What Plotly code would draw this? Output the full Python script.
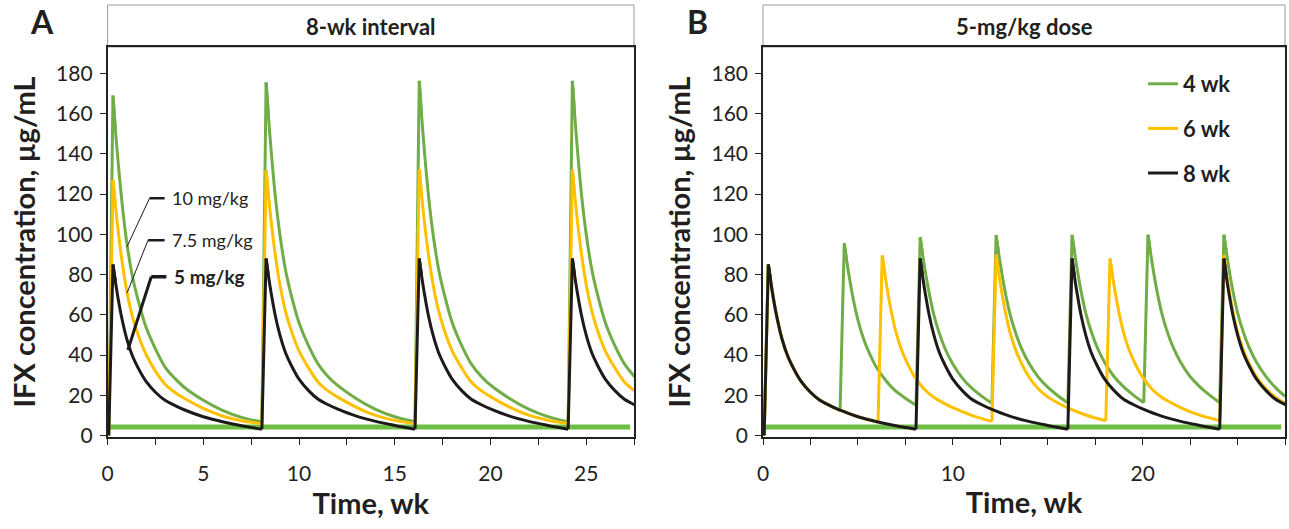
import plotly.graph_objects as go

# ---------------- data ----------------
# weeks after each nominal dose at which concentrations were read
CYCLE_OFFSETS = [0.06, 0.28, 0.4, 0.55, 0.75, 1.0, 1.3, 1.6, 2.0, 2.5, 3.0, 3.5, 4.0, 5.0, 6.0, 7.0]

DOSES_8WK = [0, 8, 16, 24]
DOSES_6WK = [0, 6, 12, 18, 24]
DOSES_4WK = [0, 4, 8, 12, 16, 20, 24]

# Panel A: 8-wk interval, three doses (ug/mL), one list per dosing cycle
A_10MG = [
    [0, 169, 153, 136, 116, 96, 79, 67, 54, 43, 34, 28.5, 24, 17.5, 12.5, 9],
    [6.7, 175.5, 159, 141, 120, 100, 82, 69.5, 56, 44.5, 35.5, 29.5, 25, 18.3, 13, 9.3],
    [6.8, 176.3, 159.5, 141.5, 120.5, 100.3, 82.3, 69.8, 56.2, 44.7, 35.6, 29.6, 25.1, 18.4, 13.1, 9.4],
    [6.8, 176.3, 159.5, 141.5, 120.5, 100.3, 82.3, 69.8, 56.2, 44.7, 35.6, 29.6, 25.1, 18.4, 13.1, 9.4],
]
A_75MG = [
    [0, 127, 115, 102, 87, 72, 59, 50, 40.5, 32, 25.5, 21.5, 18.5, 13.5, 9.7, 7.3],
    [5.9, 132, 119.5, 106, 90.5, 75, 61.5, 52, 42, 33.5, 26.5, 22.3, 19.2, 14, 10, 7.5],
    [6.0, 132.3, 119.7, 106.2, 90.7, 75.2, 61.7, 52.1, 42.1, 33.6, 26.6, 22.4, 19.3, 14.1, 10.1, 7.6],
    [6.0, 132.3, 119.7, 106.2, 90.7, 75.2, 61.7, 52.1, 42.1, 33.6, 26.6, 22.4, 19.3, 14.1, 10.1, 7.6],
]
A_5MG = [
    [0, 85, 77, 68, 58, 48, 39.5, 33.5, 27, 21.5, 17.5, 15, 12.8, 9.3, 6.8, 4.8],
    [3.1, 88, 79.5, 70.5, 60, 50, 41, 34.8, 28, 22.3, 18, 15.4, 13.2, 9.6, 7, 5],
    [3.1, 88, 79.5, 70.5, 60, 50, 41, 34.8, 28, 22.3, 18, 15.4, 13.2, 9.6, 7, 5],
    [3.1, 88, 79.5, 70.5, 60, 50, 41, 34.8, 28, 22.3, 18, 15.4, 13.2, 9.6, 7, 5],
]

# Panel B: 5-mg/kg dose, three intervals (ug/mL)
B_4WK = [
    [0, 85, 77, 68, 58, 48, 39.5, 33.5, 27, 21.5, 17.5, 15],
    [12.4, 95.5, 87.5, 78.5, 68, 57.5, 48, 41, 33.5, 27, 22, 18.5],
    [15, 98.5, 90.5, 81.5, 71, 60, 50.5, 43, 35.5, 28.5, 23.5, 19.7],
    [16, 99.5, 91.5, 82.5, 71.8, 60.8, 51.2, 43.7, 36.1, 29, 24, 20],
    [16.2, 99.7, 91.7, 82.7, 72, 61, 51.4, 43.9, 36.3, 29.2, 24.2, 20.2],
    [16.3, 99.8, 91.8, 82.8, 72.1, 61.1, 51.5, 44, 36.4, 29.3, 24.3, 20.3],
    [16.3, 99.8, 91.8, 82.8, 72.1, 61.1, 51.5, 44, 36.4, 29.3, 23.8, 19.5],
]
B_6WK = [
    [0, 85, 77, 68, 58, 48, 39.5, 33.5, 27, 21.5, 17.5, 15, 12.8, 9.3],
    [6.6, 89.5, 81.5, 72.5, 62, 51.5, 42.5, 36, 29, 23, 19, 16.2, 13.8, 10],
    [7.0, 89.8, 81.8, 72.8, 62.3, 51.8, 42.8, 36.2, 29.2, 23.2, 19.2, 16.4, 14, 10.2],
    [7.3, 88, 80.2, 71.5, 61.3, 51, 42.2, 35.8, 29, 23, 19, 16.3, 13.9, 10.1],
    [7.4, 89.5, 81.5, 72.5, 62, 51.5, 42.5, 36, 29.2, 23.2, 19, 16, 14, 10.2],
]
B_8WK = A_5MG

THRESHOLD = 4.2          # ug/mL, horizontal target line
THRESHOLD_SPAN = [0, 27.3]

X_MAX = 27.5
Y_TICKS = [0, 20, 40, 60, 80, 100, 120, 140, 160, 180]

GREEN = "#70AD47"
YELLOW = "#FFC000"
BLACK = "#1E1A1A"
THR_GREEN = "#6CBE45"
TXT = "#231F20"
FONT = "Lato"


def build(doses, cycles):
    """Split each curve into infusion rises (straight) and decays (smooth)."""
    rise_t, rise_y, dec_t, dec_y = [], [], [], []
    for i, (d, vals) in enumerate(zip(doses, cycles)):
        times = [d + o for o in CYCLE_OFFSETS[:len(vals)]]
        rise_t += times[:3] + [None]
        rise_y += vals[:3] + [None]
        seg_t, seg_y = times[1:], vals[1:]
        if i + 1 < len(doses):
            seg_t.append(doses[i + 1] + CYCLE_OFFSETS[0])
            seg_y.append(cycles[i + 1][0])
        dec_t += seg_t + [None]
        dec_y += seg_y + [None]
    return rise_t, rise_y, dec_t, dec_y


fig = go.Figure()

# threshold lines (under the curves)
for xa, ya in (("x", "y"), ("x2", "y2")):
    fig.add_trace(go.Scatter(x=THRESHOLD_SPAN, y=[THRESHOLD, THRESHOLD], mode="lines",
                             line=dict(color=THR_GREEN, width=5), xaxis=xa, yaxis=ya,
                             showlegend=False, hoverinfo="skip"))


def add_curve(doses, cycles, col, xa, ya, name=None):
    rt, ry, dt, dy = build(doses, cycles)
    grp = name or (xa + col)
    fig.add_trace(go.Scatter(x=rt, y=ry, mode="lines", line=dict(color=col, width=3),
                             xaxis=xa, yaxis=ya, showlegend=False, legendgroup=grp,
                             connectgaps=False, hoverinfo="skip"))
    fig.add_trace(go.Scatter(x=dt, y=dy, mode="lines",
                             line=dict(color=col, width=3, shape="spline", smoothing=0.9),
                             xaxis=xa, yaxis=ya, connectgaps=False, legendgroup=grp,
                             name=("<b>" + name + "</b>") if name else None,
                             showlegend=bool(name)))


# panel A
for cycles, col in ((A_10MG, GREEN), (A_75MG, YELLOW), (A_5MG, BLACK)):
    add_curve(DOSES_8WK, cycles, col, "x", "y")

# panel B
for doses, cycles, col, name in ((DOSES_4WK, B_4WK, GREEN, "4 wk"),
                                  (DOSES_6WK, B_6WK, YELLOW, "6 wk"),
                                  (DOSES_8WK, B_8WK, BLACK, "8 wk")):
    add_curve(doses, cycles, col, "x2", "y2", name)

W, H = 1289, 529
AX_L, AX_R = 107.6 / W, 634 / W
BX_L, BX_R = 763 / W, 1285 / W
Y_B, Y_T = (H - 437) / H, (H - 47) / H
HDR_T = (H - 5) / H

common_x = dict(range=[0, X_MAX], showline=True, linecolor="#222", linewidth=1.5, mirror=True,
                ticks="outside", ticklen=6, tickwidth=1, tickcolor="#222",
                minor=dict(dtick=2.5, ticks="outside", ticklen=6, tickwidth=1, tickcolor="#222"),
                showgrid=False, zeroline=False, ticklabelstandoff=11, automargin=False,
                tickfont=dict(family=FONT, size=21, color=TXT),
                title=dict(text="<b>Time, wk</b>", font=dict(family=FONT, size=29, color=TXT),
                           standoff=9))
common_y = dict(range=[-0.75, 193.1], tickvals=Y_TICKS, showline=True, linecolor="#222",
                linewidth=1.5, mirror=True, ticks="outside", ticklen=6, tickwidth=1,
                tickcolor="#222", showgrid=False, zeroline=False, ticklabelstandoff=3,
                automargin=False, tickfont=dict(family=FONT, size=21, color=TXT),
                title=dict(text="<b>IFX concentration, µg/mL</b>",
                           font=dict(family=FONT, size=29, color=TXT), standoff=12))

fig.update_layout(
    width=W, height=H, margin=dict(l=0, r=0, t=0, b=0, autoexpand=False),
    paper_bgcolor="white", plot_bgcolor="white",
    xaxis=dict(domain=[AX_L, AX_R], anchor="y", dtick=5, tick0=0, **common_x),
    yaxis=dict(domain=[Y_B, Y_T], anchor="x", **common_y),
    xaxis2=dict(domain=[BX_L, BX_R], anchor="y2", dtick=10, tick0=0, **common_x),
    yaxis2=dict(domain=[Y_B, Y_T], anchor="x2", **common_y),
    showlegend=True,
    legend=dict(x=1143 / W, y=(H - 63) / H, xanchor="left", yanchor="top",
                font=dict(family=FONT, size=22, color=TXT), bgcolor="rgba(0,0,0,0)",
                tracegroupgap=13),
)

shapes = []
annotations = []
# header boxes with titles
for (x0, x1, title) in ((AX_L, AX_R, "8-wk interval"), (BX_L, BX_R, "5-mg/kg dose")):
    shapes.append(dict(type="rect", xref="paper", yref="paper", x0=x0, x1=x1, y0=Y_T, y1=HDR_T,
                       line=dict(color="#9A9A9A", width=1), fillcolor="rgba(0,0,0,0)", layer="below"))
    annotations.append(dict(xref="paper", yref="paper", x=(x0 + x1) / 2, y=(Y_T + HDR_T) / 2,
                            text="<b>" + title + "</b>", showarrow=False, xanchor="center",
                            yanchor="middle", font=dict(family=FONT, size=22, color=TXT)))
# panel letters
for x, letter in ((42 / W, "A"), (697 / W, "B")):
    annotations.append(dict(xref="paper", yref="paper", x=x, y=(H - 22) / H, text="<b>" + letter + "</b>",
                            showarrow=False, xanchor="center", yanchor="middle",
                            font=dict(family=FONT, size=32, color=TXT)))

# dose labels with leader lines in panel A
DOSE_LABELS = [
    ("10 mg/kg", False, 117.9, 2.19, 2.98, 1.01, 93.8, 1.0, 2.5),
    ("7.5 mg/kg", False, 97.0, 2.11, 2.98, 1.01, 70.7, 1.0, 2.5),
    ("5 mg/kg", True, 78.9, 2.28, 3.07, 1.06, 42.5, 3.0, 3.5),
]
for text, bold, ly, hx0, hx1, dx, dy, diag_w, hor_w in DOSE_LABELS:
    shapes.append(dict(type="line", xref="x", yref="y", x0=hx0, x1=hx1, y0=ly, y1=ly,
                       line=dict(color=BLACK, width=hor_w)))
    shapes.append(dict(type="line", xref="x", yref="y", x0=hx0, x1=dx, y0=ly, y1=dy,
                       line=dict(color=BLACK, width=diag_w)))
    annotations.append(dict(xref="x", yref="y", x=hx1 + 0.3, y=ly,
                            text=("<b>" + text + "</b>") if bold else text, showarrow=False,
                            xanchor="left", yanchor="middle",
                            font=dict(family=FONT, size=19 if bold else 18, color=TXT)))

fig.update_layout(shapes=shapes, annotations=annotations)
fig.write_html("out.html", config={"displayModeBar": False},
               post_script="document.body.style.margin='0px';")
